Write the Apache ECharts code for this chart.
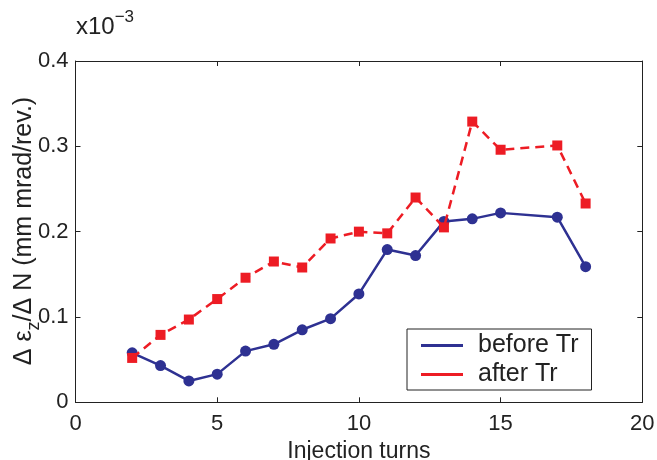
<!DOCTYPE html>
<html>
<head>
<meta charset="utf-8">
<script src="https://cdn.jsdelivr.net/npm/echarts@6/dist/echarts.min.js"></script>
<style>
  html, body { margin: 0; padding: 0; background: #fff; }
  #chart { width: 657px; height: 460px; }
</style>
</head>
<body>
<div id="chart"></div>
<script>
// Emittance growth per turn (units of 1e-3 mm mrad/rev.) vs injection turns
const turns = [2, 3, 4, 5, 6, 7, 8, 9, 10, 11, 12, 13, 14, 15, 17, 18];
const beforeTr = [0.058, 0.043, 0.025, 0.033, 0.060, 0.068, 0.085, 0.098, 0.127, 0.179, 0.172, 0.212, 0.215, 0.222, 0.217, 0.159];
const afterTr  = [0.052, 0.079, 0.097, 0.121, 0.146, 0.165, 0.158, 0.192, 0.200, 0.198, 0.240, 0.205, 0.329, 0.296, 0.301, 0.233];
const xTicks = [0, 5, 10, 15, 20];
const yTicks = [0, 0.1, 0.2, 0.3, 0.4];

const FONT = 'Liberation Sans, Arial, Helvetica, sans-serif';
const INK = '#222';
const BLUE = '#2E3192';
const RED = '#ED1C24';

const pairs = (xs, ys) => xs.map((x, i) => [x, ys[i]]);

const chart = echarts.init(document.getElementById('chart'), null, { renderer: 'canvas' });

const tickStyle = { show: true, inside: true, length: 5, lineStyle: { color: INK, width: 1 } };
const lineStyle = { show: true, onZero: false, lineStyle: { color: INK, width: 1 } };

chart.setOption({
  animation: false,
  backgroundColor: '#fff',
  grid: { left: 75.5, right: 14.7, top: 61, bottom: 57.7, containLabel: false, outerBoundsMode: 'none' },
  xAxis: [
    {
      type: 'value', min: xTicks[0], max: xTicks[xTicks.length - 1], interval: 5,
      axisLine: lineStyle, axisTick: tickStyle, splitLine: { show: false },
      axisLabel: { color: INK, fontFamily: FONT, fontSize: 22, margin: 11 },
      name: 'Injection turns', nameLocation: 'middle', nameGap: 33,
      nameTextStyle: { color: INK, fontFamily: FONT, fontSize: 23 }
    },
    {
      type: 'value', position: 'top', min: xTicks[0], max: xTicks[xTicks.length - 1], interval: 5,
      axisLine: lineStyle, axisTick: tickStyle, axisLabel: { show: false }, splitLine: { show: false }
    }
  ],
  yAxis: [
    {
      type: 'value', min: yTicks[0], max: yTicks[yTicks.length - 1], interval: 0.1,
      axisLine: lineStyle, axisTick: tickStyle, splitLine: { show: false },
      axisLabel: {
        color: INK, fontFamily: FONT, fontSize: 22, margin: 7,
        formatter: v => (v === 0 ? '0' : v.toFixed(1))
      }
    },
    {
      type: 'value', position: 'right', min: yTicks[0], max: yTicks[yTicks.length - 1], interval: 0.1,
      axisLine: lineStyle, axisTick: tickStyle, axisLabel: { show: false }, splitLine: { show: false }
    }
  ],
  legend: {
    orient: 'vertical',
    left: 407, top: 329,
    padding: [4, 13, 3, 14],
    itemGap: 4,
    itemWidth: 42, itemHeight: 3,
    borderColor: INK, borderWidth: 1,
    backgroundColor: '#fff',
    textStyle: { color: INK, fontFamily: FONT, fontSize: 25, padding: [0, 0, 0, 10] },
    data: [
      { name: 'before Tr', icon: 'rect' },
      { name: 'after Tr', icon: 'rect' }
    ]
  },
  series: [
    {
      name: 'before Tr', type: 'line', data: pairs(turns, beforeTr),
      symbol: 'circle', symbolSize: 11,
      itemStyle: { color: BLUE },
      lineStyle: { color: BLUE, width: 2.5 },
      z: 2
    },
    {
      name: 'after Tr', type: 'line', data: pairs(turns, afterTr),
      symbol: 'rect', symbolSize: 10,
      itemStyle: { color: RED },
      lineStyle: { color: RED, width: 2.5, type: [9, 6] },
      z: 3
    }
  ],
  graphic: [
    {
      type: 'text', x: 76, y: 39,
      style: {
        text: '{a|x10}{b|−3}',
        verticalAlign: 'bottom',
        rich: {
          a: { fontFamily: FONT, fontSize: 24, fill: INK, color: INK, lineHeight: 30, verticalAlign: 'bottom' },
          b: { fontFamily: FONT, fontSize: 17, fill: INK, color: INK, lineHeight: 30, verticalAlign: 'top' }
        }
      }
    },
    {
      type: 'text', x: 24, y: 231, rotation: Math.PI / 2,
      style: {
        text: '{a|Δ ε}{s|z}{a|/Δ N (mm mrad/rev.)}',
        align: 'center', verticalAlign: 'middle',
        rich: {
          a: { fontFamily: FONT, fontSize: 25, fill: INK, color: INK, lineHeight: 38, verticalAlign: 'middle' },
          s: { fontFamily: FONT, fontSize: 18, fill: INK, color: INK, lineHeight: 38, verticalAlign: 'bottom' }
        }
      }
    }
  ]
});
</script>
</body>
</html>
